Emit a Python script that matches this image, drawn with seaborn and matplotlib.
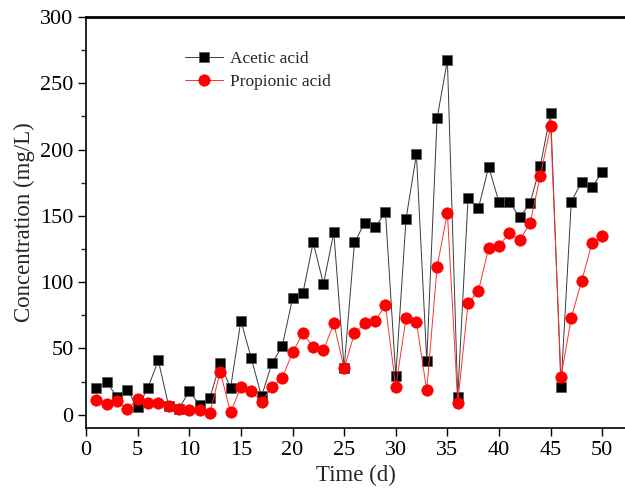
import matplotlib
matplotlib.use("Agg")
import matplotlib.pyplot as plt
import seaborn as sns
import pandas as pd
from matplotlib.ticker import MultipleLocator

# ====================
# DATA
# ====================
days = list(range(1, 51))
acetic = [20, 24.4, 13.6, 18.6, 5.6, 20.4, 41, 7, 4.5, 17.9,
          7.3, 12.8, 39, 20, 71, 42.8, 13.9, 38.7, 51.6, 87.8,
          91.5, 130, 98.6, 137.6, 35, 130, 144.8, 141.3, 153, 29.4,
          148, 196.4, 40.7, 223.5, 267.5, 13.6, 163.4, 155.6, 187, 160.2,
          160.7, 148.9, 159.4, 187.8, 227.8, 20.9, 160.7, 175.7, 172, 182.8]
propionic = [11, 7.8, 10.3, 4.5, 12, 8.6, 9, 6.8, 4, 3.5,
             3.5, 1.5, 32.5, 1.8, 21, 17.9, 9.8, 20.9, 27.7, 47,
             61.4, 51.3, 48.8, 68.9, 35, 61.4, 68.9, 70.7, 82.7, 20.9,
             73.2, 70.2, 18.4, 111.6, 152.3, 9, 84, 93.3, 126, 127.5,
             137, 131.7, 144.3, 180.2, 217.7, 28.4, 73.2, 101, 129.3, 134.8]

df = pd.DataFrame({"Day": days, "Acetic": acetic, "Propionic": propionic})

# ====================
# STYLE
# ====================
sns.set_style("ticks")
plt.rcParams["font.family"] = ["Liberation Serif", "DejaVu Serif"]

fig = plt.figure(figsize=(6.25, 4.92), dpi=100)
ax = fig.add_axes([0.1376, 0.130, 0.8624, 0.8354])

sns.lineplot(data=df, x="Day", y="Acetic", ax=ax, color="#3a3a3a", lw=0.7,
             marker="s", markersize=7.2, markerfacecolor="black",
             markeredgecolor="#555555", markeredgewidth=0.5,
             label="Acetic acid")
sns.lineplot(data=df, x="Day", y="Propionic", ax=ax, color="#ff3030", lw=0.7,
             marker="o", markersize=8.2, markerfacecolor="red",
             markeredgecolor="red", markeredgewidth=0.5,
             label="Propionic acid")

# ====================
# AXES
# ====================
ax.set_xlim(0, 52.2)
ax.set_ylim(-10, 300)
ax.xaxis.set_major_locator(MultipleLocator(5))
ax.yaxis.set_major_locator(MultipleLocator(50))
ax.yaxis.set_minor_locator(MultipleLocator(25))
ax.tick_params(axis="both", which="major", direction="out", length=6,
               width=1, labelsize=16, colors="black", pad=3)
ax.tick_params(axis="y", which="minor", direction="out", length=3.5, width=1)

ax.spines["right"].set_visible(False)
ax.spines["top"].set_linewidth(2.0)
ax.spines["left"].set_linewidth(1.2)
ax.spines["bottom"].set_linewidth(1.2)
for s in ax.spines.values():
    s.set_color("black")

ax.set_xlabel("Time (d)", fontsize=16.5)
ax.set_ylabel("Concentration (mg/L)", fontsize=16.5)

ax.legend(loc="upper left", bbox_to_anchor=(0.17, 0.935), frameon=False,
          fontsize=12.5, handlelength=2.2, handletextpad=0.4,
          labelspacing=0.4, borderaxespad=0)

fig.savefig("out.png", dpi=100)
plt.close(fig)
